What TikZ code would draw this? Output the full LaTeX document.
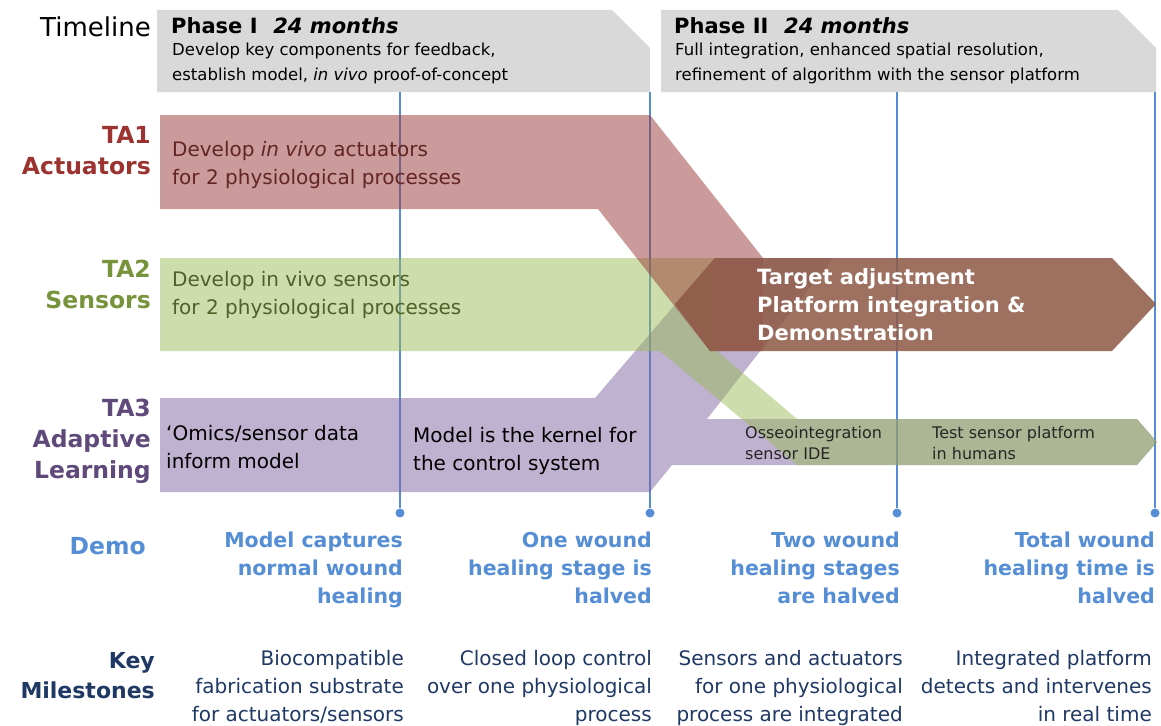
\documentclass[tikz,border=0pt]{standalone}
\usepackage{fontspec}
\setmainfont{DejaVu Sans}
\definecolor{phasegray}{RGB}{217,217,217}
\definecolor{ta1}{RGB}{149,55,53}
\definecolor{ta1label}{RGB}{155,52,48}
\definecolor{ta1text}{RGB}{99,37,35}
\definecolor{ta2}{RGB}{155,187,89}
\definecolor{ta2label}{RGB}{119,147,60}
\definecolor{ta2text}{RGB}{79,98,40}
\definecolor{ta3}{RGB}{128,100,162}
\definecolor{ta3label}{RGB}{95,73,122}
\definecolor{merge}{RGB}{144,92,73}
\definecolor{lineblue}{RGB}{85,142,213}
\definecolor{keyblue}{RGB}{31,56,100}
\newcommand{\txtsize}[2]{\fontsize{#1}{#2}\selectfont}

\begin{document}
\begin{tikzpicture}[x=1pt, y=-1pt,
    phase/.style={fill=phasegray},
    band/.style={fill opacity=0.5},
    mline/.style={draw=lineblue, line width=1.6pt},
    mdot/.style={circle, fill=lineblue, minimum size=9pt, inner sep=0pt},
    rowlabel/.style={anchor=north east, align=right, inner sep=0pt, font=\bfseries\txtsize{23.5}{31}},
    bandtext/.style={anchor=north west, align=left, inner sep=0pt, font=\txtsize{20}{28}},
    demotext/.style={anchor=north east, align=right, inner sep=0pt, text=lineblue, font=\bfseries\txtsize{20.5}{28}},
    keytext/.style={anchor=north east, align=right, inner sep=0pt, text=keyblue, font=\txtsize{20}{28}}]
    \useasboundingbox (0,0) rectangle (1161,725);

    % Phases
    \fill[phase] (157,10) -- (612,10) -- (650,48) -- (650,92) -- (157,92) -- cycle;
    \fill[phase] (661,10) -- (1118,10) -- (1156,48) -- (1156,92) -- (661,92) -- cycle;
    \node[anchor=north east, inner sep=0pt, font=\txtsize{26}{30}] (timeline) at (151,17) {Timeline};
    \node[anchor=north west, inner sep=0pt, font=\bfseries\txtsize{21}{24}] (phase-1) at (171,17) {Phase I\hspace{0.75em}\textit{24 months}};
    \node[anchor=north west, inner sep=0pt, align=left, font=\txtsize{16.5}{25}] (phase-1-text) at (172,43) {Develop key components for feedback,\\establish model, \textit{in vivo} proof-of-concept};
    \node[anchor=north west, inner sep=0pt, font=\bfseries\txtsize{21}{24}] (phase-2) at (674,17) {Phase II\hspace{0.75em}\textit{24 months}};
    \node[anchor=north west, inner sep=0pt, align=left, font=\txtsize{16.5}{25}] (phase-2-text) at (675,43) {Full integration, enhanced spatial resolution,\\refinement of algorithm with the sensor platform};

    % Demo lines
    \coordinate (top-1) at (400,92);
    \coordinate (top-2) at (650,92);
    \coordinate (top-3) at (897,92);
    \coordinate (top-4) at (1155,92);
    \node[mdot] (dot-1) at (400,513) {};
    \node[mdot] (dot-2) at (650,513) {};
    \node[mdot] (dot-3) at (897,513) {};
    \node[mdot] (dot-4) at (1155,513) {};
    \draw[mline] (top-1) -- (dot-1);
    \draw[mline] (top-2) -- (dot-2);
    \draw[mline] (top-3) -- (dot-3);
    \draw[mline] (top-4) -- (dot-4);

    % Bands
    \fill[band, ta3] (160,398) -- (595,398) -- (715,258) -- (833,258) -- (707,419) -- (1137,419) -- (1157,442) -- (1137,465) -- (672,465) -- (650,492) -- (160,492) -- cycle;
    \fill[band, ta2] (160,258) -- (715,258) -- (717,351) -- (797,419) -- (1137,419) -- (1157,442) -- (1137,465) -- (797,465) -- (660,351) -- (160,351) -- cycle;
    \fill[band, ta1] (160,115) -- (650,115) -- (763,258) -- (763,351) -- (710,351) -- (598,209) -- (160,209) -- cycle;
    \fill[merge, fill opacity=0.88] (715,258) -- (1112,258) -- (1156,304) -- (1112,351) -- (710,351) -- (675,304) -- cycle;

    % Row labels
    \node[rowlabel, text=ta1label] (label-1) at (151,126) {TA1\\Actuators};
    \node[rowlabel, text=ta2label] (label-2) at (151,260) {TA2\\Sensors};
    \node[rowlabel, text=ta3label] (label-3) at (151,399) {TA3\\Adaptive\\Learning};
    \node[rowlabel, text=lineblue] (label-demo) at (146,537) {Demo};
    \node[rowlabel, text=keyblue, font=\bfseries\txtsize{22}{30}] (label-key) at (155,652) {Key\\Milestones};

    % Band texts
    \node[bandtext, text=ta1text] (text-1) at (172,141) {Develop \textit{in vivo} actuators\\for 2 physiological processes};
    \node[bandtext, text=ta2text] (text-2) at (172,271) {Develop in vivo sensors\\for 2 physiological processes};
    \node[bandtext] (text-3-1) at (166,425) {`Omics/sensor data\\inform model};
    \node[bandtext] (text-3-2) at (413,427) {Model is the kernel for\\the control system};
    \node[bandtext, text=white, font=\bfseries\txtsize{21}{28}] (text-merge) at (757,268) {Target adjustment\\Platform integration \&\\Demonstration};
    \node[bandtext, text=black!85, font=\txtsize{16}{21}] (text-4-1) at (745,426) {Osseointegration\\sensor IDE};
    \node[bandtext, text=black!85, font=\txtsize{16}{21}] (text-4-2) at (932,426) {Test sensor platform\\in humans};

    % Demo row
    \node[demotext] (demo-1) at (403,532) {Model captures\\normal wound\\healing};
    \node[demotext] (demo-2) at (652,532) {One wound\\healing stage is\\halved};
    \node[demotext] (demo-3) at (900,532) {Two wound\\healing stages\\are halved};
    \node[demotext] (demo-4) at (1155,532) {Total wound\\healing time is\\halved};

    % Key milestones row
    \node[keytext] (key-1) at (404,650) {Biocompatible\\fabrication substrate\\for actuators/sensors};
    \node[keytext] (key-2) at (652,650) {Closed loop control\\over one physiological\\process};
    \node[keytext] (key-3) at (903,650) {Sensors and actuators\\for one physiological\\process are integrated};
    \node[keytext] (key-4) at (1152,650) {Integrated platform\\detects and intervenes\\in real time};

\end{tikzpicture}
\end{document}
